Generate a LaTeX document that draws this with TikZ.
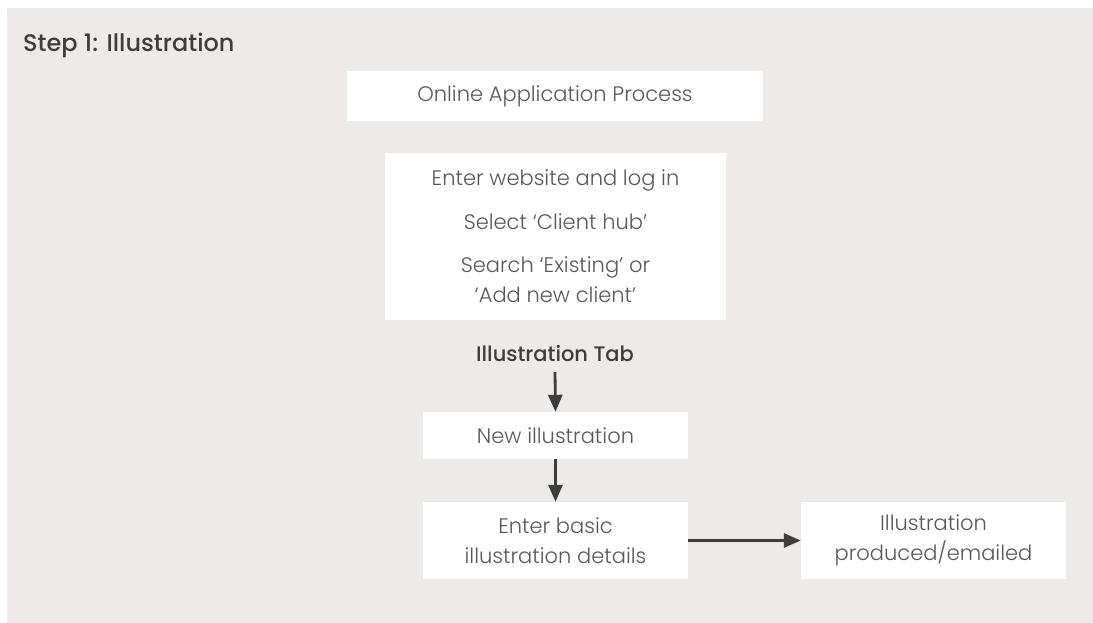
\documentclass[tikz,border=0pt]{standalone}
\usepackage{fontspec}
\setmainfont{Poppins}[UprightFont=* Light, BoldFont=* Medium]
\usetikzlibrary{arrows.meta}
\definecolor{bggrey}{HTML}{ECEBE9}
\definecolor{txtgrey}{HTML}{585858}
\definecolor{darkgrey}{HTML}{3D3D3D}
\tikzset{
  wbox/.style={fill=white, draw=none, inner sep=0pt, align=center, text=txtgrey, font=\fontsize{21}{30}\selectfont},
  flowarrow/.style={draw=darkgrey, line width=2.8pt, -{Triangle[length=17pt,width=14pt]}},
}
\begin{document}
\begin{tikzpicture}[x=1pt,y=-1pt]
\useasboundingbox (0,0) rectangle (1093,623);
\fill[bggrey] (7,8) rectangle (1093,623);
\node[anchor=west, inner sep=0pt, text=darkgrey, font=\fontsize{24}{28}\selectfont\bfseries] (title) at (23,45) {Step 1: Illustration};
\node[wbox, minimum width=416pt, minimum height=50pt] (online) at (555,96) {Online Application Process};
\node[wbox, minimum width=341pt, minimum height=167pt] (login) at (555.5,236.5) {Enter website and log in\\[14pt] Select ‘Client hub’\\[13pt] Search ‘Existing’ or\\ ‘Add new client’};
\node[text=darkgrey, inner sep=0pt, font=\fontsize{21}{25}\selectfont\bfseries] (tab) at (555,354) {Illustration Tab};
\node[wbox, minimum width=265pt, minimum height=47pt] (newill) at (555.5,435.5) {New illustration};
\node[wbox, minimum width=265pt, minimum height=77pt] (basic) at (555.5,540.5) {Enter basic\\ illustration details};
\node[wbox, minimum width=265pt, minimum height=77pt] (produced) at (933.5,540.5) {Illustration\\ produced/emailed};
\draw[flowarrow] (555,372) -- (newill.north);
\draw[flowarrow] (newill) -- (basic);
\draw[flowarrow] (basic) -- (produced);
\end{tikzpicture}
\end{document}
